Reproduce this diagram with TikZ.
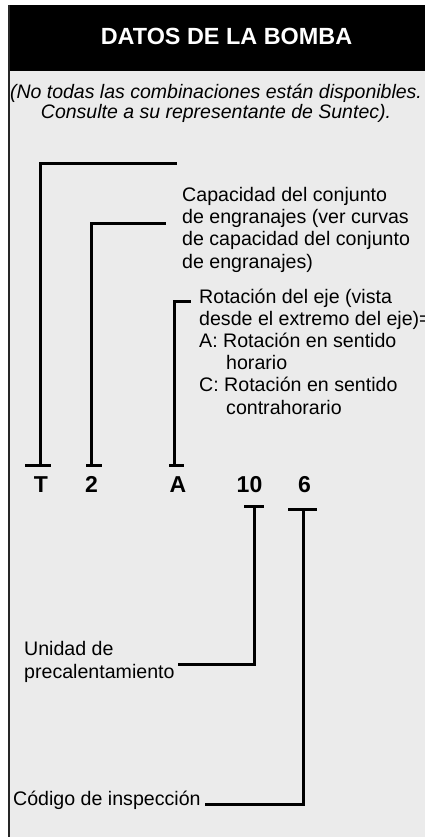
\documentclass[tikz,border=0pt]{standalone}
\usepackage{fontspec}
\setmainfont{Liberation Sans}
\usetikzlibrary{positioning}

\definecolor{panelgray}{HTML}{EBEBEB}

\begin{document}
\begin{tikzpicture}[x=1pt, y=-1pt,
    lead/.style={line width=3pt},
    code/.style={font=\fontsize{23}{28}\selectfont\bfseries, inner sep=0pt, anchor=base},
    desc/.style={font=\fontsize{19.6}{22.2}\selectfont, inner sep=0pt, align=left, anchor=base west}]
    \useasboundingbox (0,0) rectangle (425,837);

    % panel and header
    \fill[panelgray] (9,5) rectangle (425,837);
    \fill[black] (8,5) rectangle (425,71.5);
    \draw[line width=1.8pt, black!85] (9,5) -- (9,837);
    \node[font=\fontsize{23.4}{28}\selectfont\bfseries, text=white, inner sep=0pt, anchor=base]
        (title) at (226.5,45) {DATOS DE LA BOMBA};
    % base of a multi-line node = last line
    \node[font=\fontsize{19.5}{20.5}\selectfont\itshape, align=center, inner sep=0pt, anchor=base]
        (note) at (216,119) {(No todas las combinaciones están disponibles.\\Consulte a su representante de Suntec).};

    % model code
    \node[code] (cT)  at (41,492.7)    {T};
    \node[code] (c2)  at (91.5,492.7)  {2};
    \node[code] (cA)  at (178,492.7)   {A};
    \node[code] (c10) at (249.5,492.7) {10};
    \node[code] (c6)  at (304.5,492.7) {6};

    % descriptions
    \node[desc] (capacidad) at (182,268) {Capacidad del conjunto\\de engranajes (ver curvas\\de capacidad del conjunto\\de engranajes)};
    \node[desc] (rotacion) at (199,414) {Rotación del eje (vista\\desde el extremo del eje)=\\A: Rotación en sentido\\\hspace*{27pt}horario\\C: Rotación en sentido\\\hspace*{27pt}contrahorario};
    \node[desc] (unidad) at (24,678) {Unidad de\\precalentamiento};
    \node[desc] (codigo) at (13,805.7) {Código de inspección};

    % bar ends and leader ends
    \coordinate (barT)  at (40.7,465.3);
    \coordinate (bar2)  at (91.5,465.3);
    \coordinate (barA)  at (174.8,465.3);
    \coordinate (bar10) at (254.3,506.7);
    \coordinate (bar6)  at (303,509.3);
    \coordinate (endT)  at (177,163.6);
    \coordinate (end2)  at (166,223.5);
    \coordinate (endA)  at (191,301.3);

    % leaders
    \draw[lead] ([xshift=-15.7pt]barT) -- ([xshift=10.3pt]barT);
    \draw[lead] ([xshift=-5.5pt]bar2) -- ([xshift=10.2pt]bar2);
    \draw[lead] ([xshift=-5.8pt]barA) -- ([xshift=9.2pt]barA);
    \draw[lead] ([xshift=-10pt]bar10) -- ([xshift=9.7pt]bar10);
    \draw[lead] ([xshift=-14.7pt]bar6) -- ([xshift=13.7pt]bar6);
    \draw[lead] (barT) |- (endT);
    \draw[lead] (bar2) |- (end2);
    \draw[lead] (barA) |- (endA);
    \draw[lead] (bar10) |- ([xshift=3pt]unidad.south east |- 0,664.5);
    \draw[lead] (bar6) |- ([xshift=4pt]codigo.east |- 0,804.5);
\end{tikzpicture}
\end{document}
